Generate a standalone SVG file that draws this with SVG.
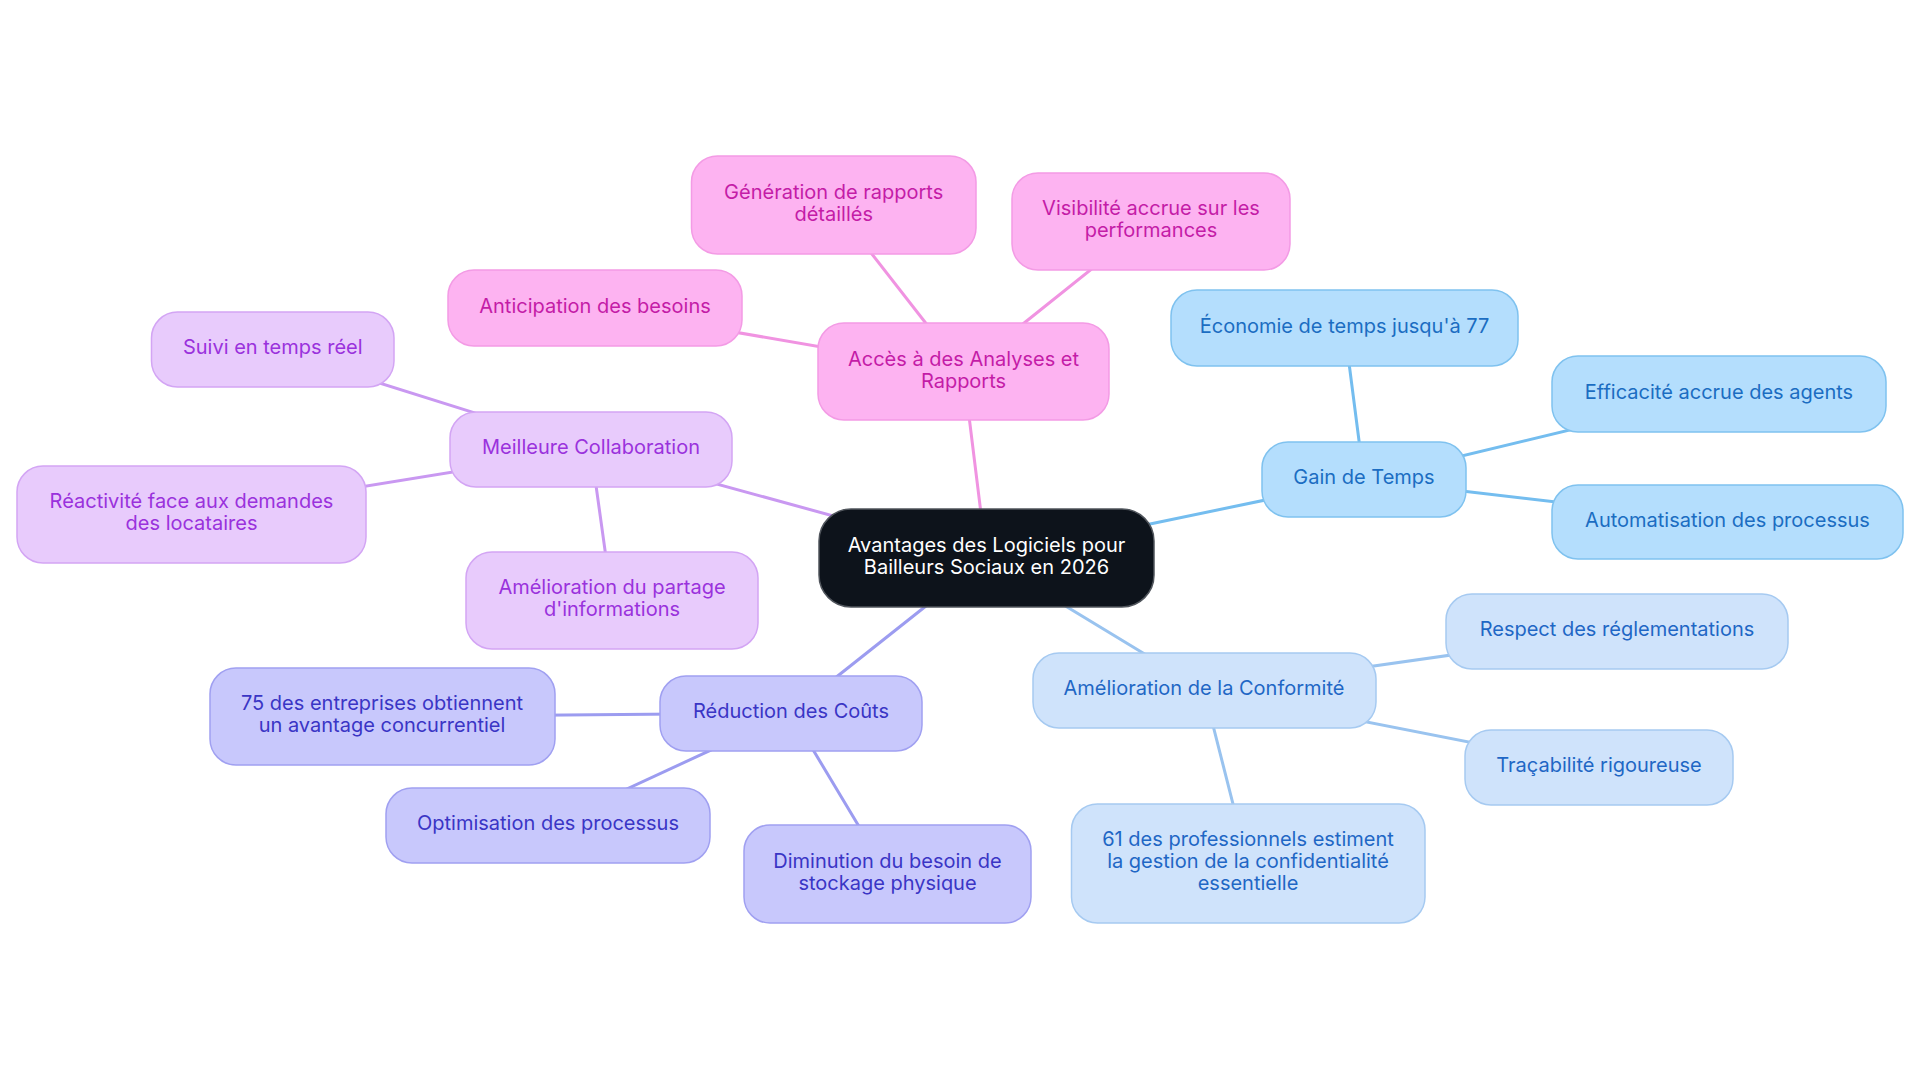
<svg xmlns="http://www.w3.org/2000/svg" width="1920" height="1083" viewBox="0 0 1920 1083">
<style>
text{font-family:Inter,"Liberation Sans",sans-serif;font-size:20px;text-anchor:middle}
.e{fill:none;stroke-width:3;stroke-linecap:round}
.ep{stroke:#f093e1}.eu{stroke:#c998f1}.ei{stroke:#9c9cf0}.eg{stroke:#74bdef}.ec{stroke:#99c3ef}
.root rect{fill:#0d131b;stroke:#50555c;stroke-width:1.5}
.root text{fill:#ffffff}
.pk rect{fill:#fdb3f1;stroke:#f39be5;stroke-width:1.5}.pk text{fill:#c41ca7}
.pu rect{fill:#e8cbfc;stroke:#d3a5f4;stroke-width:1.5}.pu text{fill:#9a32dc}
.in rect{fill:#c8c8fc;stroke:#a0a0f1;stroke-width:1.5}.in text{fill:#3a35c5}
.gt rect{fill:#b4defd;stroke:#7fc2ef;stroke-width:1.5}.gt text{fill:#1b6dc2}
.cf rect{fill:#cfe3fb;stroke:#a6caf1;stroke-width:1.5}.cf text{fill:#1f67c5}
</style>
<rect width="1920" height="1083" fill="#ffffff"/>
<g id="connectors">
<line class="e ep" x1="986.5" y1="558" x2="963.5" y2="371.5"/>
<line class="e ep" x1="963.5" y1="371.5" x2="833.7" y2="205"/>
<line class="e ep" x1="963.5" y1="371.5" x2="1151" y2="221.5"/>
<line class="e ep" x1="963.5" y1="371.5" x2="595" y2="308"/>
<line class="e eg" x1="986.5" y1="558" x2="1364" y2="479.5"/>
<line class="e eg" x1="1364" y1="479.5" x2="1344.5" y2="328"/>
<line class="e eg" x1="1364" y1="479.5" x2="1719" y2="394"/>
<line class="e eg" x1="1364" y1="479.5" x2="1727.5" y2="522"/>
<line class="e eu" x1="986.5" y1="558" x2="591" y2="449.5"/>
<line class="e eu" x1="591" y1="449.5" x2="272.75" y2="349.5"/>
<line class="e eu" x1="591" y1="449.5" x2="191.5" y2="514.5"/>
<line class="e eu" x1="591" y1="449.5" x2="612" y2="600.5"/>
<line class="e ei" x1="986.5" y1="558" x2="791" y2="713"/>
<line class="e ei" x1="791" y1="713" x2="382" y2="716.5"/>
<line class="e ei" x1="791" y1="713" x2="548" y2="825.5"/>
<line class="e ei" x1="791" y1="713" x2="887.5" y2="874"/>
<line class="e ec" x1="986.5" y1="558" x2="1204" y2="690"/>
<line class="e ec" x1="1204" y1="690" x2="1617" y2="631.5"/>
<line class="e ec" x1="1204" y1="690" x2="1599" y2="767.5"/>
<line class="e ec" x1="1204" y1="690" x2="1248" y2="863"/>
</g>
<g id="root" class="root"><rect x="819" y="509" width="335" height="98" rx="32"/><text x="986.5" y="552">Avantages des Logiciels pour</text><text x="986.5" y="574">Bailleurs Sociaux en 2026</text></g>
<g id="acces" class="pk"><rect x="818" y="323" width="291" height="97" rx="26"/><text x="963.5" y="365.5">Accès à des Analyses et</text><text x="963.5" y="387.5">Rapports</text></g>
<g id="generation" class="pk"><rect x="691.5" y="156" width="284.5" height="98" rx="26"/><text x="833.7" y="198.5">Génération de rapports</text><text x="833.7" y="220.5">détaillés</text></g>
<g id="visibilite" class="pk"><rect x="1012" y="173" width="278" height="97" rx="26"/><text x="1151" y="215">Visibilité accrue sur les</text><text x="1151" y="237">performances</text></g>
<g id="anticipation" class="pk"><rect x="448" y="270" width="294" height="76" rx="26"/><text x="595" y="312.5">Anticipation des besoins</text></g>
<g id="gain" class="gt"><rect x="1262" y="442" width="204" height="75" rx="26"/><text x="1364" y="484">Gain de Temps</text></g>
<g id="economie" class="gt"><rect x="1171" y="290" width="347" height="76" rx="26"/><text x="1344.5" y="332.5">Économie de temps jusqu'à 77</text></g>
<g id="efficacite" class="gt"><rect x="1552" y="356" width="334" height="76" rx="26"/><text x="1719" y="398.5">Efficacité accrue des agents</text></g>
<g id="automatisation" class="gt"><rect x="1552" y="485" width="351" height="74" rx="26"/><text x="1727.5" y="526.5">Automatisation des processus</text></g>
<g id="collaboration" class="pu"><rect x="450" y="412" width="282" height="75" rx="26"/><text x="591" y="454">Meilleure Collaboration</text></g>
<g id="suivi" class="pu"><rect x="151.5" y="312" width="242.5" height="75" rx="26"/><text x="272.75" y="354">Suivi en temps réel</text></g>
<g id="reactivite" class="pu"><rect x="17" y="466" width="349" height="97" rx="26"/><text x="191.5" y="508">Réactivité face aux demandes</text><text x="191.5" y="530">des locataires</text></g>
<g id="partage" class="pu"><rect x="466" y="552" width="292" height="97" rx="26"/><text x="612" y="594">Amélioration du partage</text><text x="612" y="616">d'informations</text></g>
<g id="reduction" class="in"><rect x="660" y="676" width="262" height="75" rx="26"/><text x="791" y="717.5">Réduction des Coûts</text></g>
<g id="avantage" class="in"><rect x="210" y="668" width="345" height="97" rx="26"/><text x="382" y="710">75 des entreprises obtiennent</text><text x="382" y="732">un avantage concurrentiel</text></g>
<g id="optimisation" class="in"><rect x="386" y="788" width="324" height="75" rx="26"/><text x="548" y="830">Optimisation des processus</text></g>
<g id="diminution" class="in"><rect x="744" y="825" width="287" height="98" rx="26"/><text x="887.5" y="867.5">Diminution du besoin de</text><text x="887.5" y="889.5">stockage physique</text></g>
<g id="conformite" class="cf"><rect x="1033" y="653" width="343" height="75" rx="26"/><text x="1204" y="694.5">Amélioration de la Conformité</text></g>
<g id="respect" class="cf"><rect x="1446" y="594" width="342" height="75" rx="26"/><text x="1617" y="636">Respect des réglementations</text></g>
<g id="tracabilite" class="cf"><rect x="1465" y="730" width="268" height="75" rx="26"/><text x="1599" y="772">Traçabilité rigoureuse</text></g>
<g id="confidentialite" class="cf"><rect x="1071.5" y="804" width="353.5" height="119" rx="26"/><text x="1248" y="845.5">61 des professionnels estiment</text><text x="1248" y="867.5">la gestion de la confidentialité</text><text x="1248" y="889.5">essentielle</text></g>
</svg>
